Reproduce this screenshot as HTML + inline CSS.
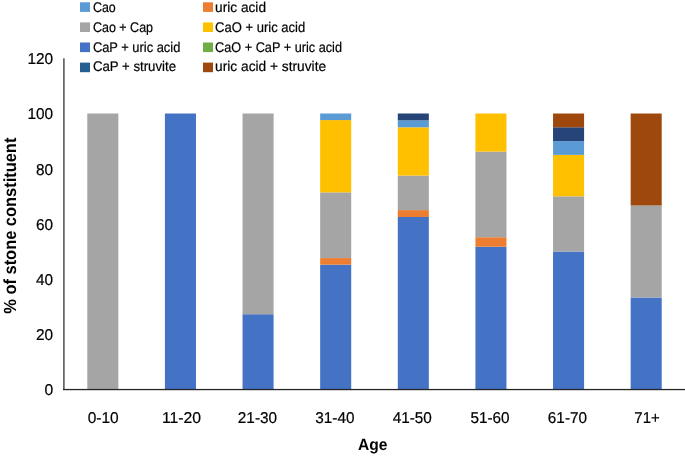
<!DOCTYPE html>
<html><head><meta charset="utf-8"><style>
html,body{margin:0;padding:0;background:#fff;}
body{width:685px;height:456px;overflow:hidden;}
svg{display:block;will-change:transform;}
text{font-family:"Liberation Sans",sans-serif;fill:#000;text-rendering:geometricPrecision;}
.ax{font-size:15.7px;stroke:#000;stroke-width:0.2px;}
.lg{font-size:14.0px;stroke:#000;stroke-width:0.2px;}
.tt{font-size:16.3px;font-weight:bold;}
.yt{font-size:17.5px;font-weight:bold;}
</style></head><body>
<svg width="685" height="456" viewBox="0 0 685 456">
<rect x="0" y="0" width="685" height="456" fill="#fff"/>
<rect x="87.29" y="113.50" width="31.05" height="276.00" fill="#A5A5A5"/><rect x="164.91" y="113.50" width="31.05" height="276.00" fill="#4472C4"/><rect x="242.54" y="314.23" width="31.05" height="75.27" fill="#4472C4"/><rect x="242.54" y="113.50" width="31.05" height="200.73" fill="#A5A5A5"/><rect x="320.16" y="264.64" width="31.05" height="124.86" fill="#4472C4"/><rect x="320.16" y="258.07" width="31.05" height="6.57" fill="#ED7D31"/><rect x="320.16" y="192.36" width="31.05" height="65.71" fill="#A5A5A5"/><rect x="320.16" y="120.07" width="31.05" height="72.29" fill="#FFC000"/><rect x="320.16" y="113.50" width="31.05" height="6.57" fill="#5B9BD5"/><rect x="397.79" y="217.00" width="31.05" height="172.50" fill="#4472C4"/><rect x="397.79" y="210.10" width="31.05" height="6.90" fill="#ED7D31"/><rect x="397.79" y="175.60" width="31.05" height="34.50" fill="#A5A5A5"/><rect x="397.79" y="127.30" width="31.05" height="48.30" fill="#FFC000"/><rect x="397.79" y="120.40" width="31.05" height="6.90" fill="#5B9BD5"/><rect x="397.79" y="113.50" width="31.05" height="6.90" fill="#264478"/><rect x="475.41" y="246.74" width="31.05" height="142.76" fill="#4472C4"/><rect x="475.41" y="237.22" width="31.05" height="9.52" fill="#ED7D31"/><rect x="475.41" y="151.57" width="31.05" height="85.66" fill="#A5A5A5"/><rect x="475.41" y="113.50" width="31.05" height="38.07" fill="#FFC000"/><rect x="553.04" y="251.50" width="31.05" height="138.00" fill="#4472C4"/><rect x="553.04" y="196.30" width="31.05" height="55.20" fill="#A5A5A5"/><rect x="553.04" y="154.90" width="31.05" height="41.40" fill="#FFC000"/><rect x="553.04" y="141.10" width="31.05" height="13.80" fill="#5B9BD5"/><rect x="553.04" y="127.30" width="31.05" height="13.80" fill="#264478"/><rect x="553.04" y="113.50" width="31.05" height="13.80" fill="#9E480E"/><rect x="630.66" y="297.50" width="31.05" height="92.00" fill="#4472C4"/><rect x="630.66" y="205.50" width="31.05" height="92.00" fill="#A5A5A5"/><rect x="630.66" y="113.50" width="31.05" height="92.00" fill="#9E480E"/>
<rect x="63" y="58.3" width="1" height="331" fill="#686868"/>
<rect x="64" y="58.3" width="1" height="331" fill="#8C8C8C"/>
<rect x="63" y="388" width="622" height="1" fill="#000" fill-opacity="0.08"/>
<rect x="63" y="389" width="622" height="1" fill="#262626"/>
<rect x="63" y="390" width="622" height="1" fill="#000" fill-opacity="0.18"/>
<text id="y0" x="53.15" y="395.45" text-anchor="end" class="ax">0</text><text id="y20" x="53.15" y="340.25" text-anchor="end" class="ax" textLength="17.10" lengthAdjust="spacingAndGlyphs">20</text><text id="y40" x="53.15" y="285.05" text-anchor="end" class="ax" textLength="17.10" lengthAdjust="spacingAndGlyphs">40</text><text id="y60" x="53.15" y="229.85" text-anchor="end" class="ax" textLength="17.10" lengthAdjust="spacingAndGlyphs">60</text><text id="y80" x="53.15" y="174.65" text-anchor="end" class="ax" textLength="17.10" lengthAdjust="spacingAndGlyphs">80</text><text id="y100" x="53.15" y="119.45" text-anchor="end" class="ax" textLength="25.70" lengthAdjust="spacingAndGlyphs">100</text><text id="y120" x="53.15" y="64.25" text-anchor="end" class="ax" textLength="25.70" lengthAdjust="spacingAndGlyphs">120</text>
<text id="x0" x="103.15" y="422.8" text-anchor="middle" class="ax" textLength="31.00" lengthAdjust="spacingAndGlyphs">0-10</text><text id="x1" x="181.55" y="422.8" text-anchor="middle" class="ax" textLength="39.20" lengthAdjust="spacingAndGlyphs">11-20</text><text id="x2" x="257.45" y="422.8" text-anchor="middle" class="ax" textLength="39.20" lengthAdjust="spacingAndGlyphs">21-30</text><text id="x3" x="334.85" y="422.8" text-anchor="middle" class="ax" textLength="39.20" lengthAdjust="spacingAndGlyphs">31-40</text><text id="x4" x="412.25" y="422.8" text-anchor="middle" class="ax" textLength="39.20" lengthAdjust="spacingAndGlyphs">41-50</text><text id="x5" x="490.05" y="422.8" text-anchor="middle" class="ax" textLength="39.20" lengthAdjust="spacingAndGlyphs">51-60</text><text id="x6" x="567.45" y="422.8" text-anchor="middle" class="ax" textLength="39.20" lengthAdjust="spacingAndGlyphs">61-70</text><text id="x7" x="647.05" y="422.8" text-anchor="middle" class="ax" textLength="25.40" lengthAdjust="spacingAndGlyphs">71+</text>
<rect x="80.0" y="2.30" width="10" height="9.6" fill="#5B9BD5"/><text id="L0" x="92.9" y="12" class="lg" textLength="22.86" lengthAdjust="spacingAndGlyphs">Cao</text><rect x="203.0" y="2.30" width="10" height="9.6" fill="#ED7D31"/><text id="L1" x="215.1" y="12" class="lg" textLength="50.92" lengthAdjust="spacingAndGlyphs">uric acid</text><rect x="80.0" y="22.40" width="10" height="9.6" fill="#A5A5A5"/><text id="L2" x="92.9" y="32" class="lg" textLength="60.16" lengthAdjust="spacingAndGlyphs">Cao + Cap</text><rect x="203.0" y="22.40" width="10" height="9.6" fill="#FFC000"/><text id="L3" x="215.1" y="32" class="lg" textLength="90.13" lengthAdjust="spacingAndGlyphs">CaO + uric acid</text><rect x="80.0" y="42.50" width="10" height="9.6" fill="#4472C4"/><text id="L4" x="92.9" y="52" class="lg" textLength="87.43" lengthAdjust="spacingAndGlyphs">CaP + uric acid</text><rect x="203.0" y="42.50" width="10" height="9.6" fill="#70AD47"/><text id="L5" x="215.1" y="52" class="lg" textLength="126.88" lengthAdjust="spacingAndGlyphs">CaO + CaP + uric acid</text><rect x="80.0" y="62.60" width="10" height="9.6" fill="#255E91"/><text id="L6" x="92.9" y="71" class="lg" textLength="83.12" lengthAdjust="spacingAndGlyphs">CaP + struvite</text><rect x="203.0" y="62.60" width="10" height="9.6" fill="#9E480E"/><text id="L7" x="215.1" y="71" class="lg" textLength="111.01" lengthAdjust="spacingAndGlyphs">uric acid + struvite</text>
<text id="age" x="372.6" y="449.6" text-anchor="middle" class="tt" textLength="29.44" lengthAdjust="spacingAndGlyphs">Age</text>
<text id="yt" transform="translate(15.5,225.7) rotate(-90)" x="0" y="0" text-anchor="middle" class="yt" textLength="176.08" lengthAdjust="spacingAndGlyphs">% of stone constituent</text>
</svg>
</body></html>
